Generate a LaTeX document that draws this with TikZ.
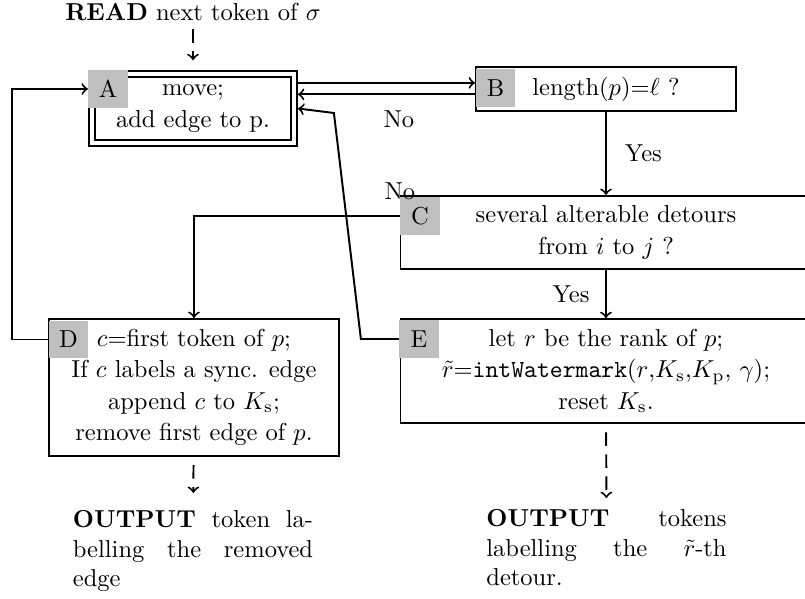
\documentclass[tikz,border=0pt]{standalone}
\usepackage{amsmath}
\usetikzlibrary{positioning}
\newcommand{\tagcolor}{gray!50}
\newcommand{\Ks}{K_{\mathrm{s}}}
\newcommand{\Kp}{K_{\mathrm{p}}}
\newcommand{\watermark}{\texttt{intWatermark}}

\begin{document}
\begin{tikzpicture}[
      % GLOBAL CFG
      x=0.408pt, y=-0.408pt,
      % Styles
      box/.style={% For the steps
        rectangle,
        draw,
        thick,
        align=center,
        inner sep=2pt,
        font=\fontsize{10pt}{12.8pt}\selectfont
      },
      tag/.style={% For the letters of the steps
        rectangle,
        fill=\tagcolor,
        minimum width=16pt,
        minimum height=15.4pt,
        inner sep=0pt
      },
      io/.style={% For what is read and written
        text width=98pt,
        align=justify,
        inner sep=3.33pt
      },
      arrowflow/.style={% Arrows between the steps
        thick,
        ->,
      },
      arrowio/.style={% Arrows for reading and writing
        thick,
        dash pattern=on 5.5pt off 3.5pt,
        ->,
      }
      ]

      \useasboundingbox (0,0) rectangle (805,599);

      % Draw the steps:
      \node [box, double, double distance=1.65pt, outer sep=1.6pt,
        minimum width=82.4pt, minimum height=28.2pt] (A) at (193,108.5)
        {move;\\add edge to p.};
      \node [box, minimum width=106.1pt, minimum height=18pt] (B) at (606,89)
        {length($p$)=$\ell$ ?};
      \node [box, minimum width=167.7pt, minimum height=29.8pt] (C) at (606,232.5)
        {several alterable detours\\from $i$ to $j$ ?};
      \node [box, minimum width=118.3pt, minimum height=55.9pt] (D) at (194,387.5)
        {$c$=first token of $p$;\\If $c$ labels a sync. edge\\append $c$ to $\Ks$;\\remove first edge of $p$.};
      \node [box, minimum width=167.7pt, minimum height=42.4pt] (E) at (606,371)
        {let $r$ be the rank of $p$;\\$\tilde{r}$=\watermark($r$,$\Ks$,$\Kp$, $\gamma$);\\reset $\Ks$.};

      \node [tag] (tagA) at (108,89) {A};
      \node [tag] (tagB) at (495.5,88) {B};
      \node [tag] (tagC) at (420,216) {C};
      \node [tag] (tagD) at (68.5,339.5) {D};
      \node [tag] (tagE) at (419,339) {E};

      % Input and outputs
      \node [inner sep=3.33pt] (read) at (193,12) {\textbf{READ} next token of $\sigma$};
      \node [io, anchor=north] (out1) at (193,502)
        {\textbf{OUTPUT} token labelling the removed edge};
      \node [io, anchor=north] (out2) at (606.5,501)
        {\textbf{OUTPUT} tokens \mbox{labelling} the $\tilde{r}$-th detour.};

      \draw [arrowio, shorten >=4pt] (read) -- (A);
      \draw [arrowio, shorten <=3.3pt, shorten >=3.7pt] (D) -- (out1);
      \draw [arrowio, shorten <=3.4pt, shorten >=1.2pt] (E) -- (out2);

      \draw [arrowflow] ([yshift=2.5pt]B.west -| A.east) -- ([yshift=2.5pt]B.west);
      \draw [arrowflow] ([yshift=-2.2pt]B.west) -- ([yshift=-2.2pt]B.west -| A.east)
        node [pos=0.43, below=3pt] {No};
      \draw [arrowflow] (B) -- (C) node [midway, right=4pt] {Yes};
      \draw [arrowflow] (C) -- (E) node [midway, left=3pt] {Yes};
      \draw [arrowflow] (tagC.west) -| (D.north) node [pos=0, above=3pt] {No};
      \draw [arrowflow] (tagD.west) -- ++(-36,0) |- (tagA.west);
      \draw [arrowflow] (tagE.west) -- ++(-38,0) -- ++(-27,-226) -- (A.east);
    \end{tikzpicture}
\end{document}
